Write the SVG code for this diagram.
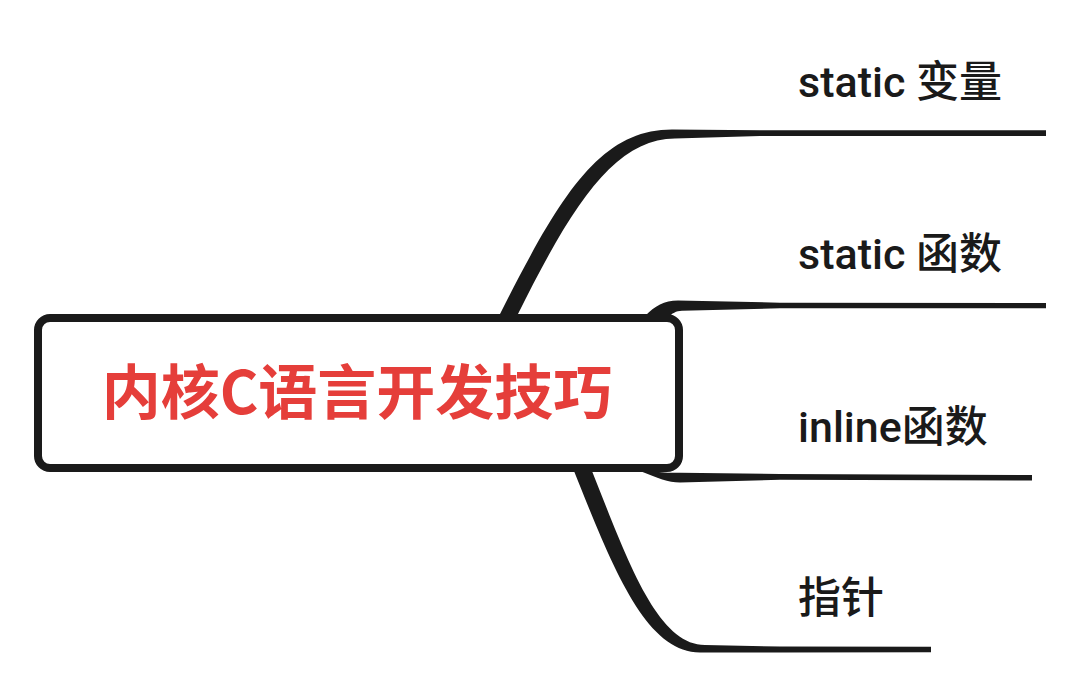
<svg xmlns="http://www.w3.org/2000/svg" width="1080" height="686" viewBox="0 0 1080 686">
  <style>
    .branch { fill: #1a1a1a; stroke: none; }
    .label { font-family: Roboto, "Noto Sans CJK SC", sans-serif; font-size: 43px; font-weight: 500; fill: #1a1a1a; }
    .title { font-family: "Noto Sans CJK SC", "Noto Sans", sans-serif; font-size: 59px; font-weight: 700; fill: #e53e3a; }
    .box { fill: #ffffff; stroke: #1a1a1a; stroke-width: 8; }
  </style>
  <rect x="0" y="0" width="1080" height="686" fill="#ffffff"/>
  <g id="connectors">
    <path class="branch" d="M 499,316 C 560,195 600,129.5 672,129.5 L 760,130.3 L 1046,130.3 L 1046,136 L 760,136 L 675,138.5 C 615,138.5 572,205 517,316 Z"/>
    <path class="branch" d="M 645,316 C 655,306 664,300.5 678,300.5 L 780,302.7 L 1046,303 L 1046,308.3 L 780,308.3 L 682,310.7 C 676,311 672,313 668,318 Z"/>
    <path class="branch" d="M 650,470 C 660,473 668,472.7 680,472.7 L 780,474 L 1032,475 L 1032,480.5 L 780,479.8 L 680,482.5 C 668,482.5 658,478 640,471 Z"/>
    <path class="branch" d="M 572,466 C 612,566 645,652.5 700,652.5 L 780,652.5 L 931,652.2 L 931,646.8 L 780,646.5 L 705,645 C 656,645 626,556 590,466 Z"/>
  </g>
  <g id="node-root">
    <rect class="box" x="38" y="318" width="641" height="150" rx="12" ry="12"/>
    <text class="title" x="357" y="413.5" text-anchor="middle">内核C语言开发技巧</text>
  </g>
  <g id="node-static-var">
    <text class="label" x="798" y="96.5">static 变量</text>
  </g>
  <g id="node-static-func">
    <text class="label" x="798" y="269">static 函数</text>
  </g>
  <g id="node-inline-func">
    <text class="label" x="798" y="441.5">inline函数</text>
  </g>
  <g id="node-pointer">
    <text class="label" x="798" y="613">指针</text>
  </g>
</svg>
